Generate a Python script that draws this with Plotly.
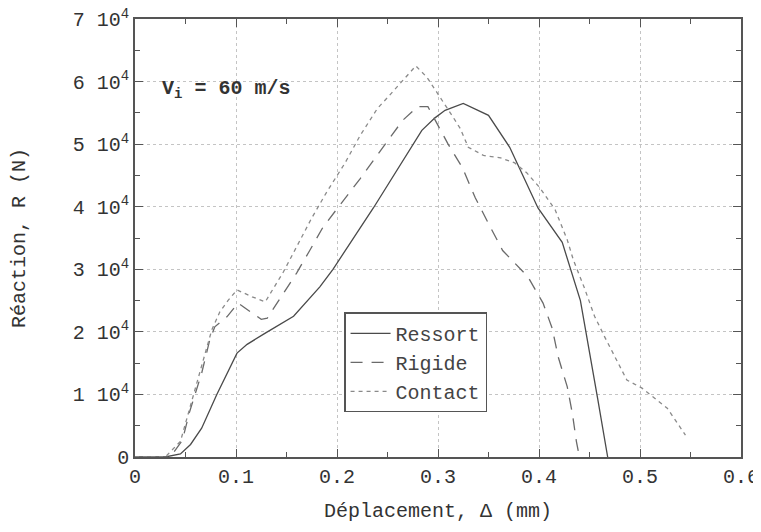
import plotly.graph_objects as go

# Data (displacement in mm, reaction in N)
ressort_x = [0.0, 0.03, 0.045, 0.055, 0.066, 0.081, 0.101, 0.111, 0.129, 0.157, 0.183, 0.196,
             0.236, 0.279, 0.284, 0.297, 0.307, 0.325, 0.350, 0.371, 0.399, 0.423, 0.441,
             0.458, 0.468]
ressort_y = [0, 0, 500, 2000, 4600, 10000, 16600, 18000, 19800, 22500, 27200, 30000,
             39800, 51000, 52200, 54200, 55400, 56500, 54600, 49500, 39800, 34300, 25000,
             9400, 0]

rigide_x = [0.0, 0.035, 0.047, 0.054, 0.066, 0.074, 0.079, 0.091, 0.102, 0.114, 0.125, 0.131,
            0.160, 0.173, 0.186, 0.223, 0.245, 0.265, 0.280, 0.290, 0.300, 0.310, 0.324,
            0.337, 0.351, 0.364, 0.389, 0.404, 0.413, 0.419, 0.428, 0.433, 0.437, 0.440]
rigide_y = [0, 0, 2700, 7200, 13400, 18700, 20800, 22400, 24600, 23200, 22000, 22200,
            29400, 33000, 36700, 44500, 49300, 53800, 56000, 56000, 53000, 50000, 46300,
            41400, 37000, 33000, 28800, 24600, 20600, 16000, 11200, 7000, 2500, 0]

contact_x = [0.0, 0.03, 0.045, 0.062, 0.069, 0.076, 0.084, 0.092, 0.101, 0.116, 0.129, 0.147,
             0.160, 0.175, 0.190, 0.208, 0.223, 0.240, 0.252, 0.278, 0.289, 0.299, 0.315,
             0.322, 0.330, 0.345, 0.362, 0.376, 0.388, 0.401, 0.416, 0.428, 0.434, 0.445,
             0.455, 0.465, 0.487, 0.502, 0.527, 0.537, 0.545]
contact_y = [0, 0, 2500, 12000, 16300, 20300, 23200, 25000, 26700, 25600, 24800, 29600,
             33600, 38200, 42400, 47000, 51400, 55700, 57800, 62500, 60700, 58300, 54300,
             52500, 49500, 48200, 47800, 47000, 45400, 43000, 39500, 34700, 31500, 27000,
             22500, 19200, 12300, 11000, 7800, 5400, 3500]

x_ticks = [0, 0.1, 0.2, 0.3, 0.4, 0.5, 0.6]
x_labels = ["0", "0.1", "0.2", "0.3", "0.4", "0.5", "0.6"]
y_ticks = [0, 10000, 20000, 30000, 40000, 50000, 60000, 70000]
y_labels = ["0"] + [f"{k} 10<sup>4</sup>" for k in range(1, 8)]

FONT = "Liberation Mono, Courier New, monospace"

fig = go.Figure()
fig.add_trace(go.Scatter(x=ressort_x, y=ressort_y, mode="lines", name="Ressort",
                         line=dict(color="#4a4a4a", width=1.3, dash="solid")))
fig.add_trace(go.Scatter(x=rigide_x, y=rigide_y, mode="lines", name="Rigide",
                         line=dict(color="#6a6a6a", width=1.3, dash="12px,9px")))
fig.add_trace(go.Scatter(x=contact_x, y=contact_y, mode="lines", name="Contact",
                         line=dict(color="#8a8a8a", width=1.3, dash="4px,4px")))

axis_common = dict(
    showline=True, linecolor="#555", linewidth=1.5, mirror="ticks",
    ticks="inside", ticklen=8, tickcolor="#555", tickwidth=1,
    showgrid=True, gridcolor="#c4c4c4", griddash="dot", gridwidth=1,
    zeroline=False, automargin=False, ticklabeloverflow="allow",
    tickfont=dict(family=FONT, size=20, color="#333"),
)

fig.update_xaxes(range=[0, 0.6], tickvals=x_ticks, ticktext=x_labels,
                 minor=dict(ticks="inside", ticklen=5, tickcolor="#555", dtick=0.05, showgrid=False),
                 title=dict(text="Déplacement, Δ (mm)", font=dict(family=FONT, size=20, color="#333"),
                            standoff=15),
                 **axis_common)
fig.update_yaxes(range=[0, 70000], tickvals=y_ticks, ticktext=y_labels,
                 minor=dict(ticks="inside", ticklen=5, tickcolor="#555", dtick=5000, showgrid=False),
                 title=dict(text="Réaction, R (N)", font=dict(family=FONT, size=20, color="#333"),
                            standoff=42),
                 **axis_common)

fig.add_annotation(x=0.025, y=58700, xref="x", yref="y", xanchor="left", yanchor="middle",
                   text="<b>V<sub>i</sub> = 60 m/s</b>", showarrow=False,
                   font=dict(family=FONT, size=20, color="#333"))

# page body has an 8px default margin, so the figure is sized to fit the window
fig.update_layout(
    width=753, height=516,
    margin=dict(l=127, r=20, t=11, b=67),
    paper_bgcolor="white", plot_bgcolor="white",
    showlegend=True,
    legend=dict(x=0.345, y=0.33, xanchor="left", yanchor="top",
                bgcolor="white", bordercolor="#555", borderwidth=1.5,
                font=dict(family=FONT, size=20, color="#444"),
                tracegroupgap=4, itemwidth=40),
)

fig.write_html("out.html")
